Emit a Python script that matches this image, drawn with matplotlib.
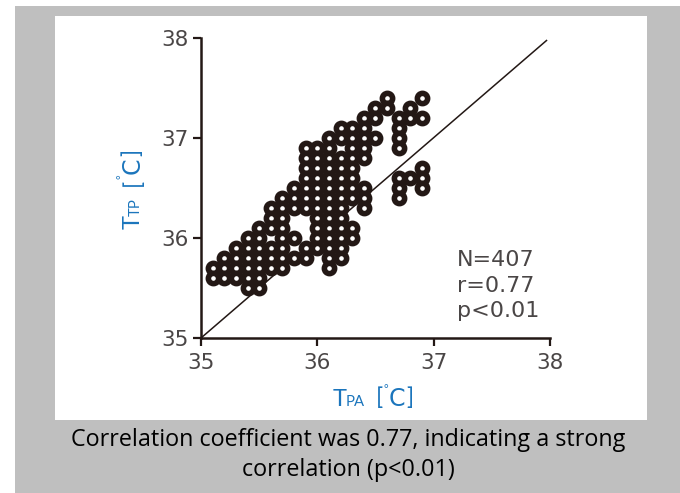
import matplotlib
matplotlib.use("Agg")
import matplotlib.pyplot as plt
from matplotlib.patches import Rectangle

W, H = 680, 493

# temperature pairs read row by row, one list of T_PA per T_TTP value
ttp_rows = [37.4, 37.3, 37.2, 37.1, 37.0, 36.9, 36.8, 36.7, 36.6, 36.5, 36.4,
            36.3, 36.2, 36.1, 36.0, 35.9, 35.8, 35.7, 35.6, 35.5]
pa_rows = [
    [36.6, 36.9],
    [36.5, 36.6, 36.8],
    [36.4, 36.5, 36.7, 36.8, 36.9],
    [36.2, 36.3, 36.4, 36.7],
    [36.1, 36.2, 36.3, 36.4, 36.5, 36.7],
    [35.9, 36.0, 36.1, 36.3, 36.4, 36.7],
    [35.9, 36.0, 36.1, 36.2, 36.3, 36.4],
    [35.9, 36.0, 36.1, 36.2, 36.3, 36.9],
    [35.9, 36.0, 36.1, 36.2, 36.3, 36.7, 36.8, 36.9],
    [35.8, 35.9, 36.0, 36.1, 36.2, 36.3, 36.4, 36.7, 36.9],
    [35.7, 35.8, 35.9, 36.0, 36.1, 36.2, 36.3, 36.4, 36.7],
    [35.6, 35.7, 35.8, 35.9, 36.0, 36.1, 36.2, 36.4],
    [35.6, 35.7, 36.0, 36.1, 36.2],
    [35.5, 35.6, 35.7, 36.0, 36.1, 36.2, 36.3],
    [35.4, 35.5, 35.7, 35.8, 36.0, 36.1, 36.2, 36.3],
    [35.3, 35.4, 35.5, 35.6, 35.7, 35.9, 36.0, 36.1, 36.2],
    [35.2, 35.3, 35.4, 35.5, 35.6, 35.7, 35.8, 35.9, 36.1, 36.2],
    [35.1, 35.2, 35.3, 35.4, 35.5, 35.6, 35.7, 36.1],
    [35.1, 35.2, 35.3, 35.4, 35.5],
    [35.4, 35.5],
]
identity = [35, 37.97]
ticks = [35, 36, 37, 38]
stats = ["N=407", "r=0.77", "p<0.01"]
caption = ["Correlation coefficient was 0.77, indicating a strong",
           "correlation (p<0.01)"]

INK = "#231815"
GREY_TXT = "#4a4646"
BLUE = "#1b75bc"

def fx(px):
    return px / W

def fy(py):
    return 1 - py / H

def main():
    fig = plt.figure(figsize=(W / 100, H / 100), dpi=100, facecolor="white")
    fig.add_artist(Rectangle((fx(15), 0), fx(665), fy(6), transform=fig.transFigure,
                             fc="#bfbfbf", ec="none", zorder=-2))
    fig.add_artist(Rectangle((fx(55), fy(420)), fx(592), fy(16) - fy(420),
                             transform=fig.transFigure, fc="white", ec="none", zorder=-1))

    ax = fig.add_axes([fx(201), fy(338), fx(349), fy(37.5) - fy(338)])
    ax.patch.set_alpha(0)
    ax.set_xlim(35, 38)
    ax.set_ylim(35, 38)
    ax.plot(identity, identity, color=INK, lw=1.1, clip_on=False, zorder=2)
    for y, xs in zip(ttp_rows, pa_rows):
        ax.plot(xs, [y] * len(xs), "o", ms=7.4, mfc="white", mec=INK, mew=4.0,
                clip_on=False, zorder=3)

    for s in ["top", "right"]:
        ax.spines[s].set_visible(False)
    for s in ["left", "bottom"]:
        ax.spines[s].set_linewidth(1.8)
        ax.spines[s].set_color(INK)
    ax.set_xticks(ticks)
    ax.set_yticks(ticks)
    ax.tick_params(length=5.5, width=1.6, color=INK, labelcolor=GREY_TXT, labelsize=15.5)
    ax.tick_params(axis="x", pad=5)
    ax.tick_params(axis="y", pad=3.5)

    # axis titles are built from pieces, the subscript is set in small capitals
    xlabel = [(333, "T", 17, "Lato"), (345.5, "PA", 10.7, "Lato"), (376, "[", 17, "Lato"),
              (388.8, "C", 17, "DejaVu Sans"), (406.8, "]", 17, "Lato")]
    for px, s, size, fam in xlabel:
        fig.text(fx(px), fy(405.5), s, color=BLUE, fontsize=size, family=fam, va="baseline")
    fig.text(fx(385.8), fy(390), "°", color=BLUE, fontsize=8, family="Lato", ha="center", va="center")

    ylabel = [(229, "T", 17, "Lato"), (216.5, "TP", 10.7, "Lato"), (185.5, "[", 17, "Lato"),
              (174, "C", 17, "DejaVu Sans"), (156, "]", 17, "Lato")]
    for py, s, size, fam in ylabel:
        fig.text(fx(139.5), fy(py), s, color=BLUE, fontsize=size, family=fam, rotation=90,
                 va="baseline", ha="left", rotation_mode="anchor")
    fig.text(fx(122), fy(176.8), "°", color=BLUE, fontsize=8, family="Lato", rotation=90,
             ha="center", va="center")

    for i, s in enumerate(stats):
        fig.text(fx(457), fy(266 + 25.5 * i), s, color=GREY_TXT, fontsize=16, va="baseline")

    for i, s in enumerate(caption):
        fig.text(fx(348), fy(440 + 30 * i), s, color="black", fontsize=16.8, family="Open Sans",
                 ha="center", va="center")

    fig.savefig("out.png", dpi=100, facecolor="white")

if __name__ == "__main__":
    main()
